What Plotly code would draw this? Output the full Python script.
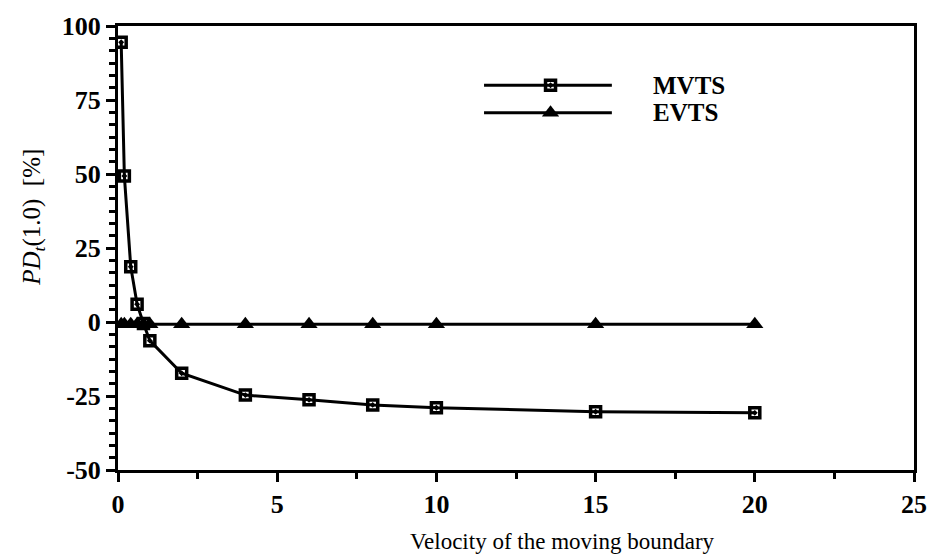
import plotly.graph_objects as go

# Percentage deviation PD_t(1.0) versus velocity of the moving boundary
velocity = [0.1, 0.2, 0.4, 0.6, 0.8, 1, 2, 4, 6, 8, 10, 15, 20]
mvts_pd = [94.5, 49.3, 18.7, 6.0, -0.5, -6.3, -17.3, -24.7, -26.3, -28.0, -29.0, -30.3, -30.7]
evts_pd = [-0.8, -0.8, -0.8, -0.8, -0.8, -0.8, -0.8, -0.8, -0.8, -0.8, -0.8, -0.8, -0.8]

series_names = ["MVTS", "EVTS"]
x_ticks = [0, 5, 10, 15, 20, 25]
y_ticks = [-50, -25, 0, 25, 50, 75, 100]

FONT = "Liberation Serif"
W, H = 939, 557
L, R, T, B = 118, 12, 20, 87

mvts_marker = dict(symbol="square-open-dot", size=10, color="black", line=dict(width=3.5, color="black"))
evts_marker = dict(symbol="triangle-up", size=15, color="black", line=dict(width=0))

fig = go.Figure()
fig.add_trace(go.Scatter(x=velocity, y=mvts_pd, mode="lines+markers", name=series_names[0],
                         line=dict(color="black", width=3), marker=mvts_marker, showlegend=False))
fig.add_trace(go.Scatter(x=velocity, y=evts_pd, mode="lines+markers", name=series_names[1],
                         line=dict(color="black", width=3), marker=evts_marker, showlegend=False))

# Key: long sample lines with a centred marker, drawn on a small auxiliary axis pair
plot_w = W - L - R
plot_h = H - T - B
def px_x(p):
    return (p - L) / plot_w
def px_y(p):
    return (H - B - p) / plot_h

key_rows = [1, 0]
for row, name, mk in zip(key_rows, series_names, [mvts_marker, evts_marker]):
    fig.add_trace(go.Scatter(x=[0, 1], y=[row, row], mode="lines", xaxis="x2", yaxis="y2",
                             line=dict(color="black", width=3), showlegend=False, hoverinfo="skip"))
    fig.add_trace(go.Scatter(x=[0.52], y=[row], mode="markers", xaxis="x2", yaxis="y2",
                             marker=mk, showlegend=False, hoverinfo="skip"))
    fig.add_annotation(x=px_x(660), xref="paper", y=row, yref="y2", text=name, showarrow=False,
                       xanchor="left", yanchor="middle",
                       font=dict(family=FONT, size=25, color="black", weight="bold"))

# Axis titles placed as annotations
fig.add_annotation(x=px_x(570), xref="paper", y=px_y(542), yref="paper",
                   text="Velocity of the moving boundary", showarrow=False,
                   xanchor="center", yanchor="middle",
                   font=dict(family=FONT, size=23, color="black"))
fig.add_annotation(x=px_x(32), xref="paper", y=px_y(214), yref="paper",
                   text="<i>PD</i><sub><i>t</i></sub>(1.0)  [%]", showarrow=False, textangle=-90,
                   xanchor="center", yanchor="middle",
                   font=dict(family=FONT, size=25, color="black"))

tick_font = dict(family=FONT, size=26, color="black", weight="bold")
fig.update_layout(
    width=W, height=H,
    margin=dict(l=L, r=R, t=T, b=B),
    paper_bgcolor="white", plot_bgcolor="white",
    font=dict(family=FONT, color="black"),
    xaxis=dict(range=[0, 25], tickvals=x_ticks, ticktext=[str(v) for v in x_ticks],
               showgrid=False, zeroline=False, showline=True, linecolor="black", linewidth=3,
               mirror=True, ticks="outside", ticklen=9, tickwidth=3, tickcolor="black",
               minor=dict(dtick=2.5, ticks="outside", ticklen=6, tickwidth=3, tickcolor="black", showgrid=False),
               tickfont=tick_font),
    yaxis=dict(range=[-50, 100], tickvals=y_ticks, ticktext=[str(v) for v in y_ticks],
               showgrid=False, zeroline=False, showline=True, linecolor="black", linewidth=3,
               mirror=True, ticks="outside", ticklen=9, tickwidth=3, tickcolor="black",
               minor=dict(dtick=25 / 6, tick0=0, ticks="outside", ticklen=6, tickwidth=3,
                          tickcolor="black", showgrid=False),
               tickfont=tick_font),
    xaxis2=dict(domain=[px_x(490), px_x(620)], range=[0, 1], anchor="y2",
                visible=False, fixedrange=True),
    yaxis2=dict(domain=[px_y(122), px_y(66)], range=[-0.5, 1.5], anchor="x2",
                visible=False, fixedrange=True),
)

fig.write_html("out.html")
